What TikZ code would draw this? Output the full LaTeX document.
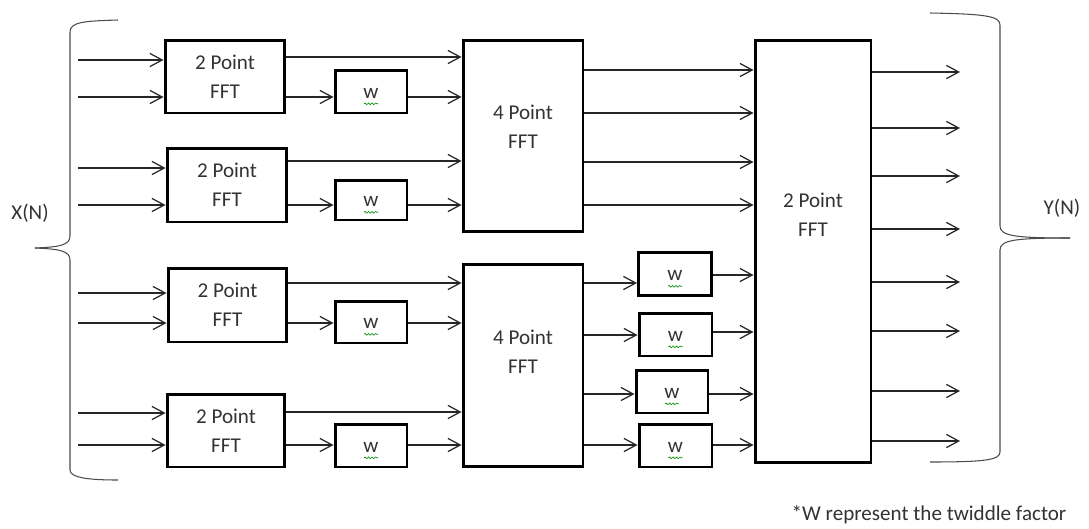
\documentclass[tikz,border=0pt]{standalone}
\usepackage{fontspec}
\setmainfont{Carlito}
\usetikzlibrary{arrows.meta,decorations.pathmorphing}

\tikzset{
  blk/.style={draw,line width=1.7pt,inner sep=0pt,align=center,text=black!80,
    font=\fontsize{12}{16.5}\selectfont},
  twf/.style={blk,minimum width=1.44cm,minimum height=0.86cm,text height=1.6ex,text depth=-0.2ex},
  sig/.style={->,line width=0.7pt,black!85},
  brc/.style={line width=0.6pt,black!70},
  lbl/.style={text=black!80,font=\fontsize{12}{14}\selectfont}
}
\newcommand{\wlab}{w}

\begin{document}
\begin{tikzpicture}[x=0.02cm,y=-0.02cm,>={Straight Barb[length=7pt,width=7.5pt]}]
            \useasboundingbox (0,0) rectangle (1089,528);
            % first stage
            \node[blk,minimum width=2.4cm,minimum height=1.46cm] (f1) at (225,76.5) {2 Point\\FFT};
            \node[blk,minimum width=2.4cm,minimum height=1.48cm] (f2) at (227,185) {2 Point\\FFT};
            \node[blk,minimum width=2.38cm,minimum height=1.48cm] (f3) at (227.5,305) {2 Point\\FFT};
            \node[blk,minimum width=2.36cm,minimum height=1.46cm] (f4) at (226,430.5) {2 Point\\FFT};
            \node[twf] (w1) at (371,91.5) {\wlab};
            \node[twf,minimum height=0.8cm] (w2) at (371,200) {\wlab};
            \node[twf,minimum height=0.84cm] (w3) at (371,322) {\wlab};
            \node[twf] (w4) at (371,445.5) {\wlab};
            % second stage
            \node[blk,minimum width=2.4cm,minimum height=3.84cm,text depth=0.38cm] (q1) at (523,136) {4 Point\\FFT};
            \node[blk,minimum width=2.4cm,minimum height=4.06cm,text depth=0.55cm] (q2) at (523,365.5) {4 Point\\FFT};
            \node[twf,minimum width=1.46cm] (v1) at (675,274) {\wlab};
            \node[twf,minimum width=1.46cm] (v2) at (675.5,334.5) {\wlab};
            \node[twf,minimum width=1.44cm] (v3) at (672,391.5) {\wlab};
            \node[twf,minimum width=1.46cm] (v4) at (675.5,445.5) {\wlab};
            % last stage
            \node[blk,minimum width=2.32cm,minimum height=8.46cm,text depth=1.46cm] (big) at (813,251.5) {2 Point\\FFT};
            % squiggles under w
            \foreach \n in {w1,w2,w3,w4,v1,v2,v3,v4}
              \draw[green!55!black,line width=0.35pt,decorate,decoration={snake,amplitude=0.5pt,segment length=2pt}]
                ([xshift=-4pt,yshift=-7pt]\n.center) -- ([xshift=4pt,yshift=-7pt]\n.center);
            % inputs
            \foreach \y [count=\i] in {60,97,168,205,293,323,413,445}
              \coordinate (in\i) at (78,\y);
            \draw[sig] (in1) -- (f1.west |- in1);
            \draw[sig] (in2) -- (f1.west |- in2);
            \draw[sig] (in3) -- (f2.west |- in3);
            \draw[sig] (in4) -- (f2.west |- in4);
            \draw[sig] (in5) -- (f3.west |- in5);
            \draw[sig] (in6) -- (f3.west |- in6);
            \draw[sig] (in7) -- (f4.west |- in7);
            \draw[sig] (in8) -- (f4.west |- in8);
            % 2 point to twiddle and 4 point
            \draw[sig] (f1.east |- 0,57) -- (q1.west |- 0,57);
            \draw[sig] (f1.east |- 0,97) -- (w1.west |- 0,97);
            \draw[sig] (w1.east |- 0,97) -- (q1.west |- 0,97);
            \draw[sig] (f2.east |- 0,161) -- (q1.west |- 0,161);
            \draw[sig] (f2.east |- 0,205) -- (w2.west |- 0,205);
            \draw[sig] (w2.east |- 0,205) -- (q1.west |- 0,205);
            \draw[sig] (f3.east |- 0,283) -- (q2.west |- 0,283);
            \draw[sig] (f3.east |- 0,323) -- (w3.west |- 0,323);
            \draw[sig] (w3.east |- 0,323) -- (q2.west |- 0,323);
            \draw[sig] (f4.east |- 0,412) -- (q2.west |- 0,412);
            \draw[sig] (f4.east |- 0,445) -- (w4.west |- 0,445);
            \draw[sig] (w4.east |- 0,445) -- (q2.west |- 0,445);
            % 4 point to last stage
            \foreach \y in {70,113,162,205}
              \draw[sig] (q1.east |- 0,\y) -- (big.west |- 0,\y);
            \draw[sig] (q2.east |- 0,283) -- (v1.west |- 0,283);
            \draw[sig] (q2.east |- 0,335) -- (v2.west |- 0,335);
            \draw[sig] (q2.east |- 0,394) -- (v3.west |- 0,394);
            \draw[sig] (q2.east |- 0,445) -- (v4.west |- 0,445);
            \draw[sig] (v1.east |- 0,275) -- (big.west |- 0,275);
            \draw[sig] (v2.east |- 0,332) -- (big.west |- 0,332);
            \draw[sig] (v3.east |- 0,394) -- (big.west |- 0,394);
            \draw[sig] (v4.east |- 0,445) -- (big.west |- 0,445);
            % outputs
            \foreach \y [count=\i] in {72,128,176,229,282,331,391,441} {
              \coordinate (out\i) at (960,\y);
              \draw[sig] (big.east |- out\i) -- (out\i);
            }
            % braces
            \draw[brc] (118,20) .. controls (84,21) and (70,22) .. (70,32) -- (70,236)
              .. controls (70,245) and (60,247) .. (35,248);
            \draw[brc] (35,248) .. controls (60,249) and (70,251) .. (70,260) -- (70,470)
              .. controls (70,478) and (90,480) .. (118,480);
            \draw[brc] (930,13) .. controls (985,14) and (1000,16) .. (1000,25) -- (1000,226)
              .. controls (1000,236) and (1015,238) .. (1070,238);
            \draw[brc] (1070,238) .. controls (1015,238) and (1000,240) .. (1000,250) -- (1000,452)
              .. controls (1000,460) and (985,462) .. (930,462);
            \node[lbl] (xn) at (30,213) {X(N)};
            \node[lbl] (yn) at (1062,208) {Y(N)};
            \node[lbl] (note) at (929,515) {*W represent the twiddle factor};
\end{tikzpicture}
\end{document}
